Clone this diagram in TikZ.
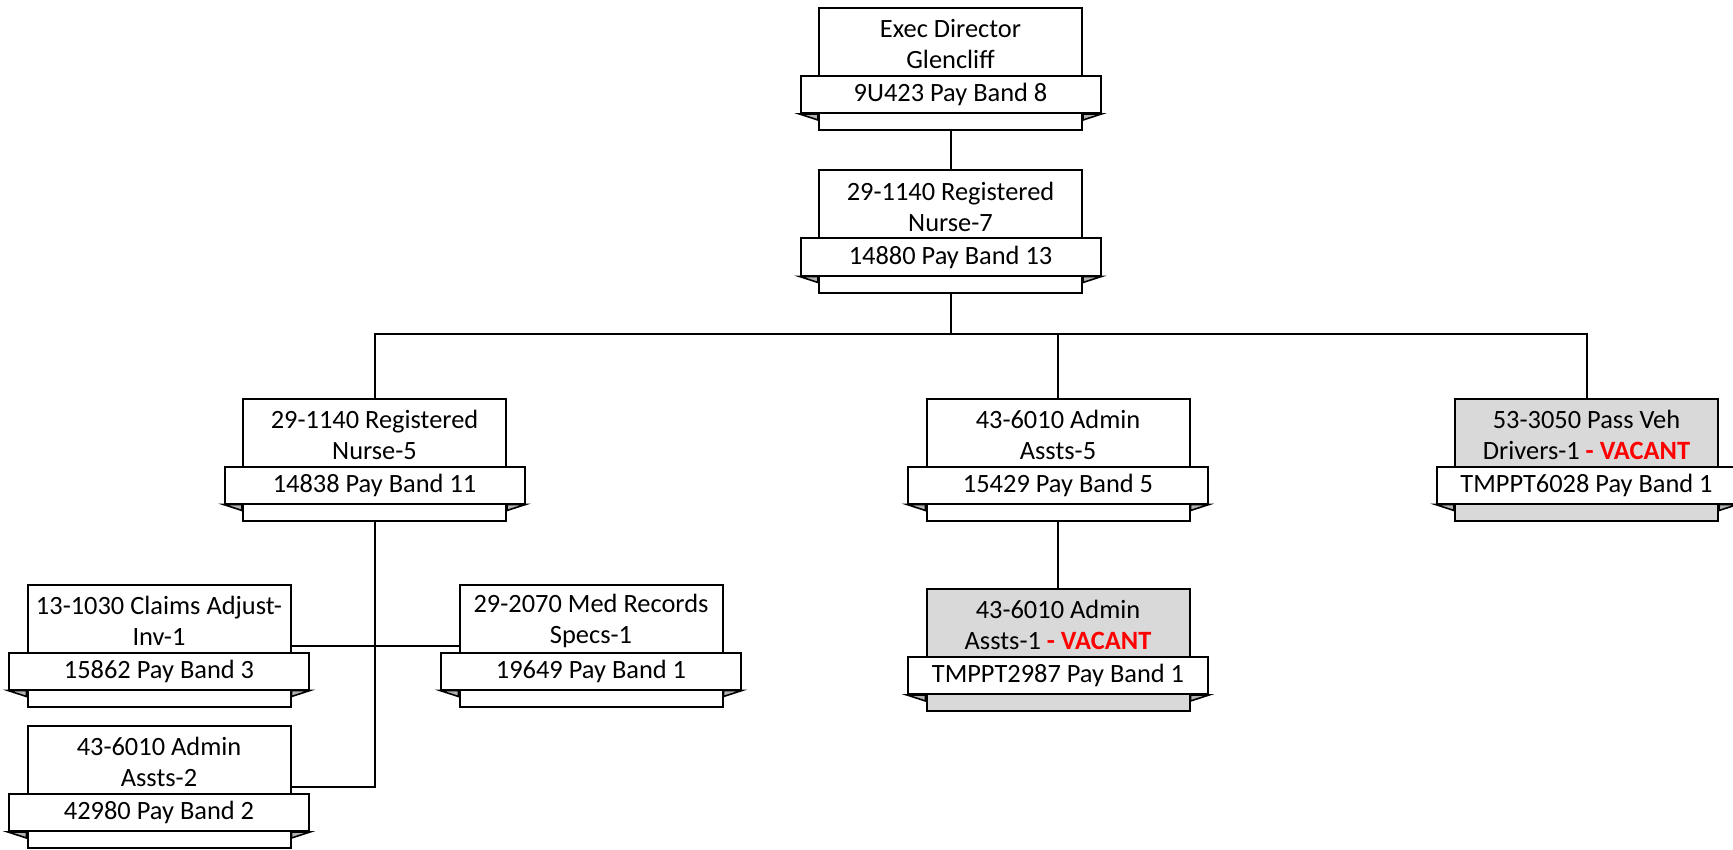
\documentclass[tikz,border=0pt]{standalone}
\usepackage{fontspec}
\setmainfont{Carlito}
\usepackage{tikz}
\newcommand{\vacant}{\textcolor{red}{\textbf{- VACANT}}}

\begin{document}
\begin{tikzpicture}[x=0.5pt, y=-0.5pt, line width=1pt,
    font=\fontsize{13.2}{15.5}\selectfont,
    posbox/.style={draw, fill=white, minimum width=131.5pt, minimum height=61pt, inner sep=0pt},
    vacbox/.style={posbox, fill=black!15},
    payband/.style={draw, fill=white, minimum width=150pt, minimum height=18.5pt, inner sep=0pt},
    ptitle/.style={align=center, inner sep=0pt}]
    \useasboundingbox (0,0) rectangle (1733,850);

    % boxes
    \node[posbox] (ed) at (950.5,69) {};
    \node[posbox] (rn7) at (950.5,231.5) {};
    \node[posbox] (rn5) at (374.5,459.5) {};
    \node[posbox] (aa5) at (1058,459.5) {};
    \node[vacbox] (pvd) at (1586.5,459.5) {};
    \node[vacbox] (aa1) at (1058,650) {};
    \node[posbox] (cai) at (159,645.5) {};
    \node[posbox] (mrs) at (591,645.5) {};
    \node[posbox] (aa2) at (159,787) {};

    \node[ptitle] (ed-t) at ([yshift=12.5pt]ed.center) {Exec Director\\Glencliff};
    \node[ptitle] (rn7-t) at ([yshift=12.5pt]rn7.center) {29-1140 Registered\\Nurse-7};
    \node[ptitle] (rn5-t) at ([yshift=12.5pt]rn5.center) {29-1140 Registered\\Nurse-5};
    \node[ptitle] (aa5-t) at ([yshift=12.5pt]aa5.center) {43-6010 Admin\\Assts-5};
    \node[ptitle] (pvd-t) at ([yshift=12.5pt]pvd.center) {53-3050 Pass Veh\\Drivers-1 \vacant};
    \node[ptitle] (aa1-t) at ([yshift=12.5pt]aa1.center) {43-6010 Admin\\Assts-1 \vacant};
    \node[ptitle] (cai-t) at ([yshift=12.5pt]cai.center) {13-1030 Claims Adjust-\\Inv-1};
    \node[ptitle] (mrs-t) at ([yshift=12.5pt]mrs.center) {29-2070 Med Records\\Specs-1};
    \node[ptitle] (aa2-t) at ([yshift=12.5pt]aa2.center) {43-6010 Admin\\Assts-2};

    \node[payband] (ed-b) at ([yshift=-12.75pt]ed.center) {9U423 Pay Band 8};
    \node[payband] (rn7-b) at ([yshift=-12.75pt]rn7.center) {14880 Pay Band 13};
    \node[payband] (rn5-b) at ([yshift=-12.75pt]rn5.center) {14838 Pay Band 11};
    \node[payband] (aa5-b) at ([yshift=-12.75pt]aa5.center) {15429 Pay Band 5};
    \node[payband] (pvd-b) at ([yshift=-12.75pt]pvd.center) {TMPPT6028 Pay Band 1};
    \node[payband] (aa1-b) at ([yshift=-12.75pt]aa1.center) {TMPPT2987 Pay Band 1};
    \node[payband] (cai-b) at ([yshift=-12.75pt]cai.center) {15862 Pay Band 3};
    \node[payband] (mrs-b) at ([yshift=-12.75pt]mrs.center) {19649 Pay Band 1};
    \node[payband] (aa2-b) at ([yshift=-12.75pt]aa2.center) {42980 Pay Band 2};

    % ribbon folds
    \foreach \n in {ed,rn7,rn5,aa5,pvd,aa1,cai,mrs,aa2} {
      \draw[fill=black!30, line width=0.8pt] (\n-b.south west) -- (\n.west |- \n-b.south) -- ++(0pt,-3pt) -- cycle;
      \draw[fill=black!30, line width=0.8pt] (\n-b.south east) -- (\n.east |- \n-b.south) -- ++(0pt,-3pt) -- cycle;
    }

    % connectors
    \coordinate (bus) at (950.5,334);
    \draw (ed) -- (rn7);
    \draw (rn7) -- (bus);
    \draw (rn5) |- (bus) -| (pvd);
    \draw (aa5) -- (aa5 |- bus);
    \draw (aa5) -- (aa1);
    \draw (rn5) |- (aa2);
    \draw (cai) -- (mrs);
\end{tikzpicture}
\end{document}
